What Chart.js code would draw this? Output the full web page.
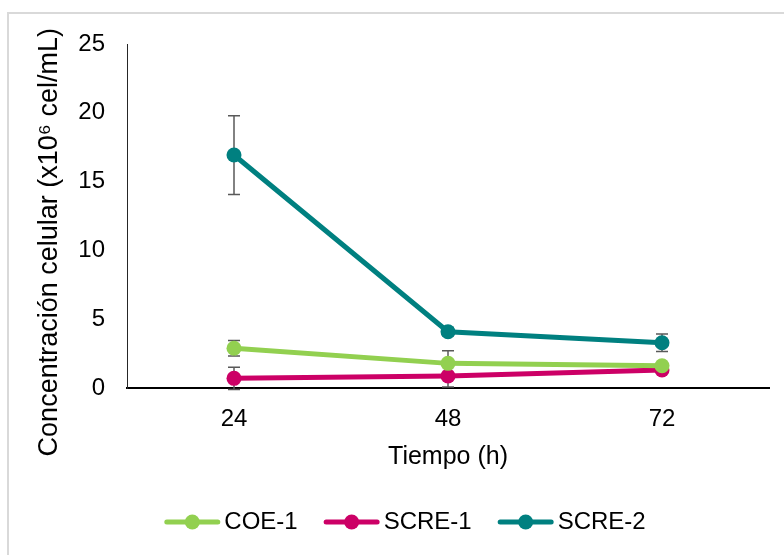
<!DOCTYPE html>
<html>
<head>
<meta charset="utf-8">
<script src="https://cdn.jsdelivr.net/npm/chart.js@4"></script>
<style>
  html, body { margin: 0; padding: 0; background: #fff; }
  #wrap { width: 784px; height: 555px; }
</style>
</head>
<body>
<div id="wrap"><canvas id="chart" width="784" height="555"></canvas></div>
<script>
const horas = ['24', '48', '72']
const coe1 = [2.89, 1.79, 1.62]
const scre1 = [0.70, 0.87, 1.31]
const scre2 = [16.93, 4.09, 3.29]
const coe1Err = [0.56, 0.92, 0.2]
const scre1Err = [0.8, 0.8, 0.2]
const scre2Err = [2.86, 0.3, 0.63]
const yTicks = [0, 5, 10, 15, 20, 25]

const FONT = '"Liberation Sans", Arial, sans-serif'

// marco gris del área del gráfico
const frame = {
  id: 'frame',
  beforeDraw(chart) {
    const ctx = chart.ctx
    ctx.save()
    ctx.fillStyle = '#fff'
    ctx.fillRect(0, 0, chart.width, chart.height)
    ctx.strokeStyle = '#d9d9d9'
    ctx.lineWidth = 2
    ctx.strokeRect(8, 13, 1000, 1000)
    ctx.restore()
  },
}

// barras de error (desviación) en gris
const errorBars = {
  id: 'errorBars',
  beforeDatasetsDraw(chart) {
    const ctx = chart.ctx
    const y = chart.scales.y
    ctx.save()
    ctx.strokeStyle = '#595959'
    ctx.lineWidth = 1.5
    chart.data.datasets.forEach((ds, i) => {
      const meta = chart.getDatasetMeta(i)
      meta.data.forEach((pt, j) => {
        const e = ds.errors[j]
        const top = y.getPixelForValue(ds.data[j] + e)
        const bot = y.getPixelForValue(ds.data[j] - e)
        ctx.beginPath()
        ctx.moveTo(pt.x, top)
        ctx.lineTo(pt.x, bot)
        ctx.moveTo(pt.x - 6, top)
        ctx.lineTo(pt.x + 6, top)
        ctx.moveTo(pt.x - 6, bot)
        ctx.lineTo(pt.x + 6, bot)
        ctx.stroke()
      })
    })
    ctx.restore()
  },
}

// marcador de leyenda: línea con punto
const legendMarks = {
  id: 'legendMarks',
  afterDraw(chart) {
    const ctx = chart.ctx
    const boxes = chart.legend.legendHitBoxes
    ctx.save()
    chart.data.datasets.forEach((ds, i) => {
      const hb = boxes[i]
      const cy = hb.top + hb.height / 2
      ctx.strokeStyle = ds.borderColor
      ctx.lineWidth = 5
      ctx.lineCap = 'round'
      ctx.beginPath()
      ctx.moveTo(hb.left + 2.5, cy)
      ctx.lineTo(hb.left + 53.5, cy)
      ctx.stroke()
      ctx.fillStyle = ds.borderColor
      ctx.beginPath()
      ctx.arc(hb.left + 28, cy, 7.5, 0, Math.PI * 2)
      ctx.fill()
    })
    ctx.restore()
  },
}

function serie(label, data, errors, color) {
  return {
    label,
    data,
    errors,
    borderColor: color,
    backgroundColor: color,
    borderWidth: 5,
    pointRadius: 7.5,
    pointBorderWidth: 0,
    pointBackgroundColor: color,
    tension: 0,
  }
}

new Chart(document.getElementById('chart'), {
  type: 'line',
  data: {
    labels: horas,
    datasets: [
      serie('COE-1', coe1, coe1Err, '#92d050'),
      serie('SCRE-1', scre1, scre1Err, '#cc0066'),
      serie('SCRE-2', scre2, scre2Err, '#008080'),
    ],
  },
  options: {
    responsive: false,
    animation: false,
    layout: { padding: { left: 41, right: 15, top: 44, bottom: 11 } },
    plugins: {
      tooltip: { enabled: false },
      legend: {
        position: 'bottom',
        labels: {
          color: '#000',
          font: { family: FONT, size: 24 },
          boxWidth: 48,
          boxHeight: 10,
          padding: 26,
          generateLabels(chart) {
            return chart.data.datasets.map((ds, i) => ({
              text: ds.label,
              fillStyle: 'rgba(0,0,0,0)',
              strokeStyle: 'rgba(0,0,0,0)',
              lineWidth: 0,
              fontColor: '#000',
              datasetIndex: i,
            }))
          },
        },
      },
    },
    scales: {
      x: {
        offset: true,
        grid: { display: false, drawTicks: false },
        border: { color: '#000', width: 2 },
        ticks: { color: '#000', font: { family: FONT, size: 24 }, padding: 17 },
        title: {
          display: true,
          text: 'Tiempo (h)',
          color: '#000',
          font: { family: FONT, size: 25 },
          padding: { top: 0, bottom: 12 },
        },
        afterFit(scale) { scale.height = 96 },
      },
      y: {
        min: 0,
        max: 25,
        afterBuildTicks(scale) { scale.ticks = yTicks.map((v) => ({ value: v })) },
        grid: { display: false, drawTicks: false },
        border: { color: '#262626', width: 1 },
        ticks: { color: '#000', font: { family: FONT, size: 24 }, padding: 22 },
        title: {
          display: true,
          text: 'Concentración celular (x10⁶ cel/mL)       ',
          color: '#000',
          font: { family: FONT, size: 27 },
          padding: { top: -8, bottom: 0 },
        },
        afterFit(scale) { scale.width = 86 },
      },
    },
  },
  plugins: [frame, errorBars, legendMarks],
})
</script>
</body>
</html>
